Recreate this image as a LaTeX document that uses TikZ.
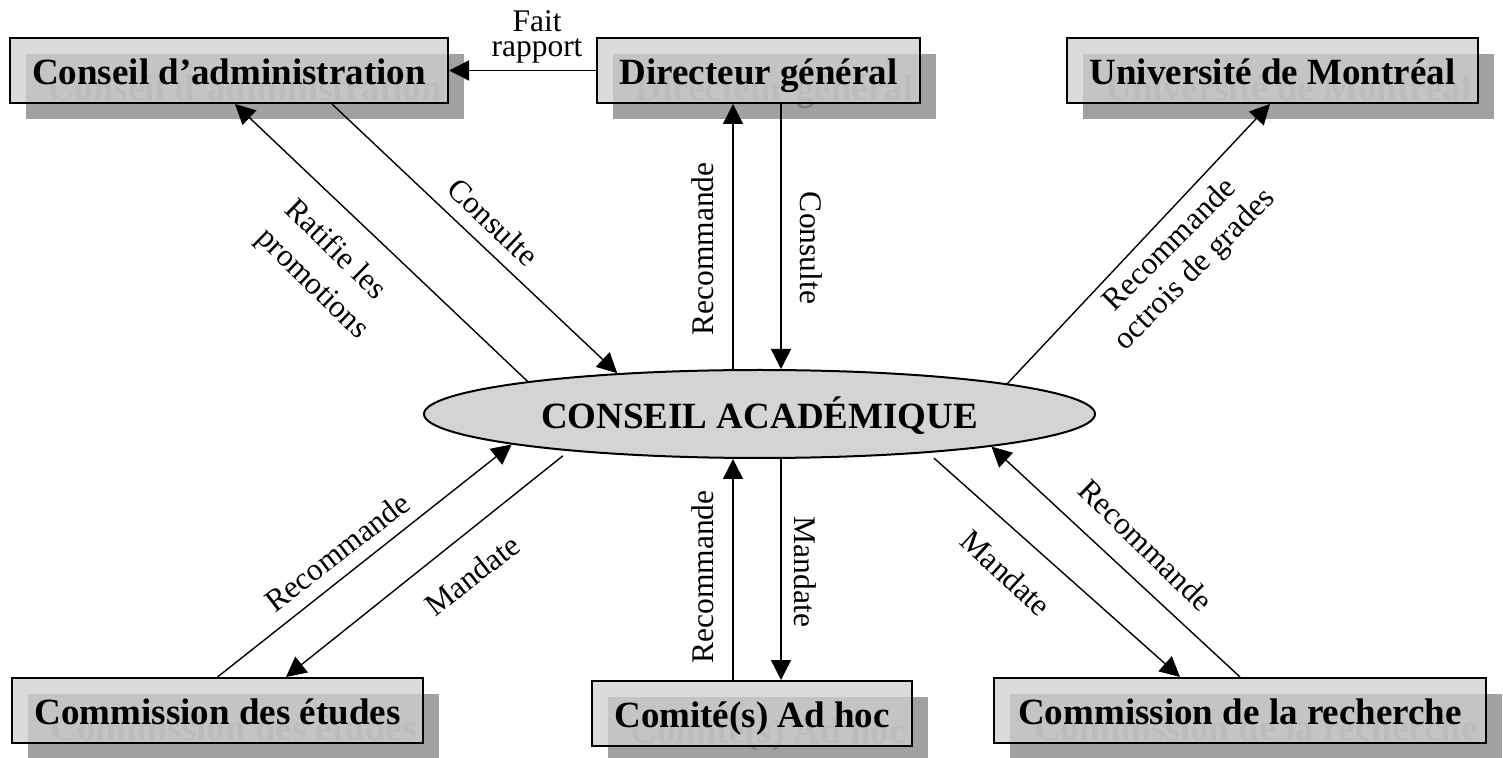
\documentclass[tikz,border=0pt]{standalone}
\usepackage{fontspec}
\setmainfont{Liberation Serif}
\usetikzlibrary{arrows.meta,shapes.geometric,calc}
\tikzset{
  boxfont/.style={font=\bfseries\fontsize{18.5}{20}\selectfont},
  mainbox/.style={boxfont, draw, line width=1pt, fill=black!18.5, fill opacity=0.76,
    text opacity=1, minimum height=32.5pt, inner sep=0pt, text height=14.2pt, text depth=0pt},
  shadowbox/.style={boxfont, fill=black!37, text=black!50, minimum height=32.5pt,
    inner sep=0pt, text height=14.2pt, text depth=0pt},
  arr/.style={-{Triangle[length=10pt,width=10pt]}, line width=0.7pt},
  lab/.style={font=\fontsize{15.75}{19}\selectfont, inner sep=0pt, align=center},
}
\newcommand\orgnode[5]{%
  \node[shadowbox, minimum width=#4] (#1-sh) at ({#2+16},{#3+16}) {#5};
  \node[mainbox, minimum width=#4] (#1) at (#2,#3) {#5};
}
\begin{document}
\begin{tikzpicture}[x=0.5pt,y=-0.5pt]
\useasboundingbox (0,0) rectangle (1503,758);
% boxes
\orgnode{cadm}{229}{70.5}{219pt}{Conseil d’administration}
\orgnode{dg}{758.5}{70.5}{161.5pt}{Directeur général}
\orgnode{udem}{1272.5}{70.5}{205.5pt}{Université de Montréal}
\orgnode{cet}{217.5}{710.5}{205.5pt}{Commission des études}
\orgnode{adhoc}{752}{713.5}{160pt}{Comité(s) Ad hoc}
\orgnode{crech}{1240}{710.5}{246pt}{Commission de la recherche}
% central ellipse
\node[ellipse, draw, line width=1pt, fill=black!17, minimum width=335.5pt,
  minimum height=44pt, inner sep=0pt, boxfont, text height=14.2pt, text depth=0pt]
  (acad) at (759.5,414) {CONSEIL ACADÉMIQUE};
% helper coordinates on ellipse
\coordinate (tl) at ([xshift=-13.25pt]acad.north);
\coordinate (tr) at ([xshift=10.75pt]acad.north);
\coordinate (bl) at ([xshift=-13.25pt]acad.south);
\coordinate (br) at ([xshift=10.75pt]acad.south);
% connectors
\draw[arr] (dg.west) -- (cadm.east);
\draw[arr] (acad.172.6) -- ([xshift=3pt]cadm.south);
\draw[arr] ([xshift=51.5pt]cadm.south) -- (acad.164.25);
\draw[arr] (tl) -- (tl |- dg.south);
\draw[arr] (tr |- dg.south) -- (tr);
\draw[arr] (acad.7.8) -- ([xshift=-1.25pt]udem.south);
\draw[arr] (cet.north) -- (acad.187.3);
\draw[arr, shorten <=3.8pt] (acad.191.6) -- ([xshift=34.25pt]cet.north);
\draw[arr] (adhoc.north -| bl) -- (bl);
\draw[arr] (br) -- (adhoc.north -| br);
\draw[arr, shorten <=4pt] (acad.347.9) -- ([xshift=-30pt]crech.north);
\draw[arr] (crech.north) -- (acad.352.9);
% labels
\node[lab, font=\fontsize{15.75}{12.5}\selectfont] (l0) at (537,37) {Fait\\rapport};
\node[lab, rotate=-43.6] (l1) at (493,222) {Consulte};
\node[lab, align=left, rotate=-44.3, font=\fontsize{15.75}{20}\selectfont] (l2) at (326,270) {Ratifie les\\promotions};
\node[lab, rotate=90] (l3) at (703,249) {Recommande};
\node[lab, rotate=-90] (l4) at (811,248) {Consulte};
\node[lab, rotate=45, font=\fontsize{15.75}{17.5}\selectfont] (l5) at (1183,258) {Recommande\\octrois de grades};
\node[lab, rotate=37.7] (l6) at (337,552) {Recommande};
\node[lab, rotate=37.8] (l7) at (472,575) {Mandate};
\node[lab, rotate=90] (l8) at (703,577) {Recommande};
\node[lab, rotate=-90] (l9) at (805,572) {Mandate};
\node[lab, rotate=-42.6] (l10) at (1006,573) {Mandate};
\node[lab, rotate=-44.4] (l11) at (1146,545) {Recommande};
\end{tikzpicture}
\end{document}
